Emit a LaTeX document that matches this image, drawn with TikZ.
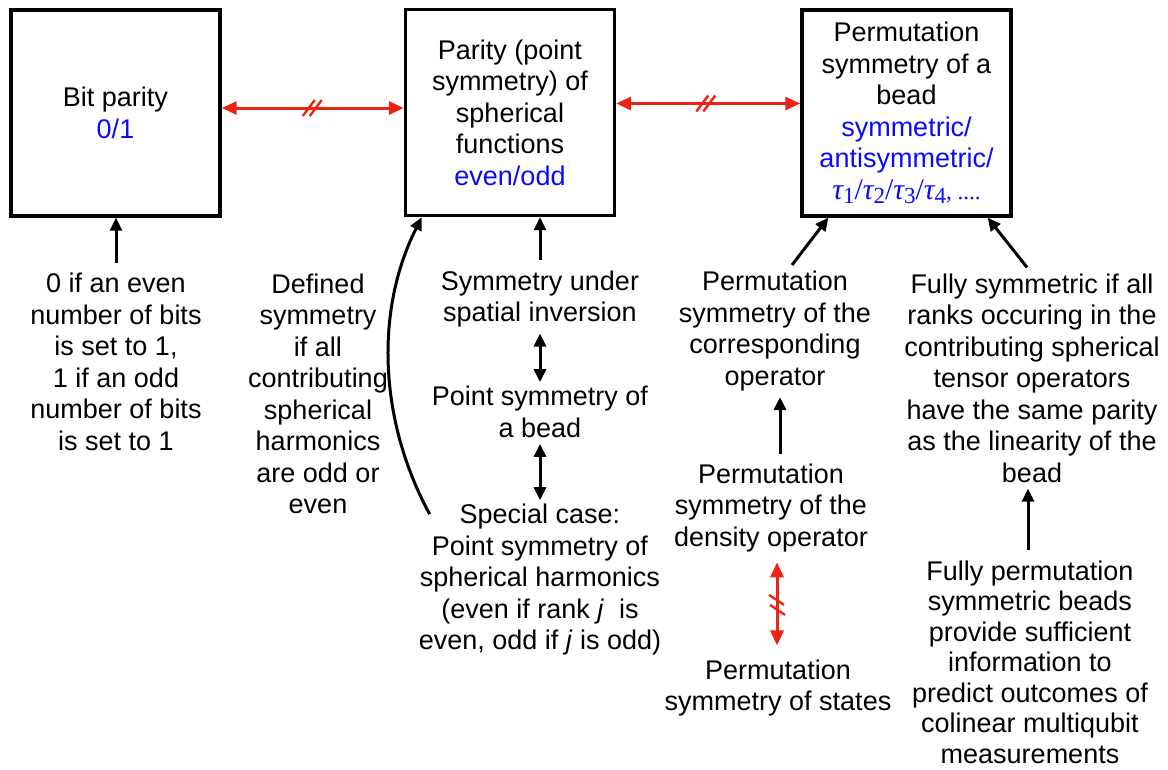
\documentclass[tikz,border=0pt]{standalone}
\usepackage{fontspec}
\setmainfont{Liberation Sans}
\newfontfamily\serifface{Liberation Serif}
\usetikzlibrary{arrows.meta,calc}
\definecolor{linkred}{RGB}{235,35,20}
\definecolor{valblue}{RGB}{10,10,250}
% tau with an upright index, as in the class labels
\newcommand\tauidx[1]{{\itshape τ}\raisebox{-0.3ex}{\fontsize{23}{23}\selectfont #1}}
\begin{document}
\begin{tikzpicture}[x=1pt,y=-1pt,
  every node/.style={font=\fontsize{27}{31.5}\selectfont},
  box/.style={draw, line width=3.4pt, minimum width=209pt, minimum height=206pt,
    align=center, inner sep=0pt},
  lbl/.style={align=center, inner sep=0pt},
  arr/.style={line width=3pt, -{Triangle[length=13pt,width=12pt]}},
  darr/.style={line width=3pt, {Triangle[length=13pt,width=12pt]}-{Triangle[length=13pt,width=12pt]}},
  redarr/.style={line width=3pt, draw=linkred,
    {Triangle[length=15pt,width=13pt,fill=linkred]}-{Triangle[length=15pt,width=13pt,fill=linkred]}},
  cut/.style={draw=linkred, line width=2.4pt}]
\useasboundingbox (0,0) rectangle (1168,769);

% the three property boxes
\node[box] (b1) at (115.5,113) {Bit parity\\\textcolor{valblue}{0/1}};
\node[box] (b2) at (510,112.5) {Parity (point\\symmetry) of\\spherical\\functions\\\textcolor{valblue}{even/odd}};
\node[box] (b3) at (906.5,113) {Permutation\\symmetry of a\\bead\\\textcolor{valblue}{symmetric/}\\\textcolor{valblue}{antisymmetric/}\\
  \textcolor{valblue}{\serifface\fontsize{30}{31.5}\selectfont\tauidx{1}/\tauidx{2}/\tauidx{3}/\tauidx{4}{\fontsize{23}{23}\selectfont, ....}}};

% explanatory texts
\node[lbl] (t1) at (116,362) {0 if an even\\number of bits\\is set to 1,\\1 if an odd\\number of bits\\is set to 1};
\node[lbl] (t2) at (318,394) {Defined\\symmetry\\if all\\contributing\\spherical\\harmonics\\are odd or\\even};
\node[lbl] (su) at (540,299) {Symmetry under\\spatial inversion};
\node[lbl] (psb) at (540,412) {Point symmetry of\\a bead};
\node[lbl] (sc) at (540,580) {Special case:\\Point symmetry of\\spherical harmonics\\(even if rank \textit{j}\ \ is\\even, odd if \textit{j} is odd)};
\node[lbl] (pco) at (775,331) {Permutation\\symmetry of the\\corresponding\\operator};
\node[lbl] (pd) at (771,508) {Permutation\\symmetry of the\\density operator};
\node[lbl] (ps) at (778,688) {Permutation\\symmetry of states};
\node[lbl] (fsy) at (1032,378) {Fully symmetric if all\\ranks occuring in the\\contributing spherical\\tensor operators\\have the same parity\\as the linearity of the\\bead};
\node[lbl,font=\fontsize{27}{30.5}\selectfont] (fpe) at (1030,662) {Fully permutation\\symmetric beads\\provide sufficient\\information to\\predict outcomes of\\colinear multiqubit\\measurements};

% red links between the boxes, each with a break mark
\coordinate (r1) at ($(b1.east)+(0,-5)$);
\draw[redarr] (r1) -- coordinate (m1) (r1 -| b2.west);
\draw[cut] ($(m1)+(-10,8)$) -- ($(m1)+(2,-8)$) ($(m1)+(-3,8)$) -- ($(m1)+(9,-8)$);
\coordinate (r2) at ($(b2.east)+(0,-9)$);
\draw[redarr] (r2) -- coordinate (m2) (r2 -| b3.west);
\draw[cut] ($(m2)+(-12,8)$) -- ($(m2)+(0,-8)$) ($(m2)+(-5,8)$) -- ($(m2)+(7,-8)$);

% black arrows into the boxes
\draw[arr] ($(t1.north)+(0,-10)$) -- (t1.north |- b1.south);
\draw[arr] ($(su.north)+(0,-10)$) -- (su.north |- b2.south);
\draw[arr] ($(sc.north west)+(11,10)$) .. controls +(-51,-94) and +(-47,93) .. ($(b2.south west)+(18,0)$);
\draw[arr] ($(pco.north)+(17,-6)$) -- ($(b3.south west)+(28,0)$);
\draw[arr] ($(fsy.north)+(-5,-6)$) -- ($(b3.south east)+(-25,0)$);

% chains below the boxes
\draw[darr] ($(su.south)+(0,6)$) -- ($(psb.north)+(0,-4)$);
\draw[darr] ($(psb.south)+(0,6)$) -- ($(sc.north)+(0,-4)$);
\draw[arr] ($(pd.north)+(9,-10)$) -- ($(pco.south)+(5,6)$);
\draw[arr] ($(fpe.north)+(-2,-10)$) -- ($(fsy.south)+(-4,6)$);
\draw[redarr] ($(pd.south)+(6,10)$) -- coordinate (m3) ($(ps.north)+(-1,-14)$);
\draw[cut] ($(m3)+(-8,-9)$) -- ($(m3)+(7,1)$) ($(m3)+(-7,1)$) -- ($(m3)+(8,11)$);
\end{tikzpicture}
\end{document}
